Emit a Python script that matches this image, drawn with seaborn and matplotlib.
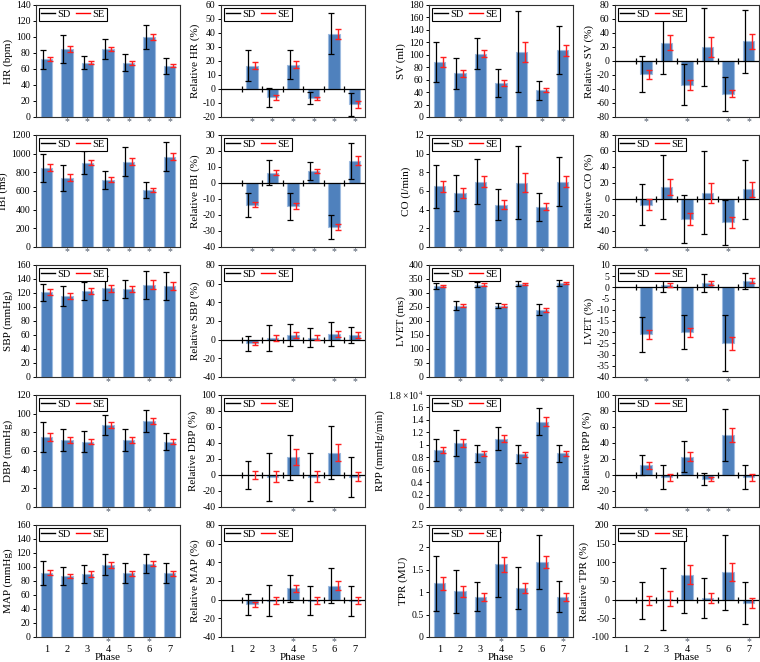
import matplotlib
matplotlib.use("Agg")
import matplotlib.pyplot as plt
from matplotlib.lines import Line2D
import numpy as np
import pandas as pd
import seaborn as sns

PHASES = ["1", "2", "3", "4", "5", "6", "7"]
NA = np.nan

# absolute values, SD, SE per phase
HR = [72, 85, 68, 85, 68, 100, 64]
HR_SD = [12, 17, 8.5, 12, 10.5, 15, 10]
HR_SE = [2.5, 4, 2, 3, 2.5, 3.5, 2]
RHR = [NA, 16.5, -6, 17.5, -6.5, 39.5, -11]
RHR_SD = [NA, 11, 7, 10.5, 4.5, 14.5, 8.5]
RHR_SE = [NA, 2.5, 2, 2.5, 1, 3.5, 2.5]

SV = [88, 70, 102, 55, 105, 43, 107]
SV_SD = [32, 25, 24.5, 22.5, 65, 15.5, 38.5]
SV_SE = [8, 5, 5, 5, 16, 3, 9]
RSV = [NA, -19, 26, -34, 20, -47, 28]
RSV_SD = [NA, 25.5, 45, 29.5, 55.5, 24.5, 45.5]
RSV_SE = [NA, 6, 10.5, 7, 14, 5, 10.5]

IBI = [850, 740, 905, 720, 915, 610, 965]
IBI_SD = [150, 137, 120, 97, 152, 87, 155]
IBI_SE = [35, 37, 30, 25, 37, 17, 37]
RIBI = [NA, -13.5, 6.5, -14.5, 7.5, -27.5, 14]
RIBI_SD = [NA, 7.5, 8, 8.5, 5.5, 7.5, 11.3]
RIBI_SE = [NA, 1.8, 1.8, 2, 1.5, 1.8, 2.8]

CO = [6.5, 5.8, 7.0, 4.55, 6.9, 4.3, 7.0]
CO_SD = [2.3, 1.9, 2.4, 1.65, 3.9, 1.5, 2.6]
CO_SE = [0.58, 0.5, 0.6, 0.45, 1.0, 0.38, 0.6]
RCO = [NA, -7, 15, -25, 8, -29, 12]
RCO_SD = [NA, 26, 40, 30, 51.5, 28, 37]
RCO_SE = [NA, 6.5, 10, 7.5, 12.5, 7, 9]

SBP = [121, 116, 123, 127, 126, 132, 130]
SBP_SD = [12, 14, 13, 17, 13, 20, 20]
SBP_SE = [4, 4, 4, 5, 4, 6, 6]
RSBP = [NA, -4, 2, 5, 2, 6, 5]
RSBP_SD = [NA, 8, 14, 12, 10, 13, 9]
RSBP_SE = [NA, 2, 3.5, 3, 2.5, 3.5, 3]

LVET = [325, 255, 330, 255, 333, 240, 335]
LVET_SD = [10, 15, 10, 10, 9, 20, 10]
LVET_SE = [4, 6, 4, 4, 3, 7, 4]
RLVET = [NA, -21, 1, -20, 2, -25, 3]
RLVET_SD = [NA, 8, 3, 7.5, 4, 12.5, 3.5]
RLVET_SE = [NA, 2, 1, 2, 1, 3, 1.2]

DBP = [75, 72, 70, 88, 72, 92, 70]
DBP_SD = [16, 12, 11, 11, 12, 12, 9]
DBP_SE = [4, 3, 3, 3, 3, 3, 3]
RDBP = [NA, 0, -2, 22, -2, 28, -2]
RDBP_SD = [NA, 17.5, 30, 28, 30, 33, 25]
RDBP_SE = [NA, 5, 7, 10, 7, 11, 6]

RPP = [0.92, 1.03, 0.86, 1.1, 0.85, 1.37, 0.86]
RPP_SD = [0.18, 0.21, 0.14, 0.19, 0.15, 0.22, 0.14]
RPP_SE = [0.05, 0.06, 0.04, 0.05, 0.04, 0.07, 0.04]
RRPP = [NA, 12, -3, 23, -5, 50, -3]
RRPP_SD = [NA, 12.5, 15, 19, 8, 32, 15]
RRPP_SE = [NA, 4, 4, 6, 2, 9, 4]

MAP = [92, 87, 90, 103, 91, 105, 91]
MAP_SD = [17, 13, 13, 15, 14.5, 14, 14.5]
MAP_SE = [4, 3, 4, 4, 4, 4, 4]
RMAP = [NA, -5, -1, 12, -1, 15, -1]
RMAP_SD = [NA, 11, 17, 14, 15.5, 19, 16]
RMAP_SE = [NA, 3, 3.5, 4, 3.5, 5, 4]

TPR = [1.2, 1.02, 0.9, 1.62, 1.1, 1.67, 0.9]
TPR_SD = [0.61, 0.48, 0.33, 0.72, 0.47, 0.6, 0.35]
TPR_SE = [0.15, 0.12, 0.09, 0.17, 0.11, 0.14, 0.09]
RTPR = [NA, -2, 2, 67, 5, 73, -9]
RTPR_SD = [NA, 49.5, 83, 103, 53.5, 101, 56]
RTPR_SE = [NA, 12.5, 20, 25, 13, 24, 13]

# significance stars: phases marked with "*"
STARS = {
    "HR": [2, 3, 4, 5, 6, 7], "RHR": [2, 3, 4, 5, 6, 7],
    "SV": [2, 4, 6, 7], "RSV": [2, 4, 6, 7],
    "IBI": [2, 3, 4, 5, 6, 7], "RIBI": [2, 3, 4, 5, 6, 7],
    "CO": [2, 4, 6], "RCO": [2, 4, 6],
    "SBP": [4, 6, 7], "RSBP": [4, 6, 7],
    "LVET": [2, 4, 6], "RLVET": [2, 4, 6],
    "DBP": [4, 6], "RDBP": [4, 6],
    "RPP": [2, 4, 5, 6], "RRPP": [2, 4, 5, 6],
    "MAP": [4, 6], "RMAP": [4, 6],
    "TPR": [4, 7], "RTPR": [4, 7],
}

BAR = "#4f81bd"
EDGE = "#9dbbe0"

plt.rcParams["font.family"] = ["Liberation Serif", "DejaVu Serif"]
plt.rcParams["mathtext.fontset"] = "stix"

fig = plt.figure(figsize=(7.6, 6.62), dpi=100)

panels = [
    # row, col, key, mean, sd, se, ylabel, lo, hi, step
    (0, 0, "HR", HR, HR_SD, HR_SE, "HR (bpm)", 0, 140, 20),
    (0, 1, "RHR", RHR, RHR_SD, RHR_SE, "Relative HR (%)", -20, 60, 10),
    (0, 2, "SV", SV, SV_SD, SV_SE, "SV (ml)", 0, 180, 20),
    (0, 3, "RSV", RSV, RSV_SD, RSV_SE, "Relative SV (%)", -80, 80, 20),
    (1, 0, "IBI", IBI, IBI_SD, IBI_SE, "IBI (ms)", 0, 1200, 200),
    (1, 1, "RIBI", RIBI, RIBI_SD, RIBI_SE, "Relative IBI (%)", -40, 30, 10),
    (1, 2, "CO", CO, CO_SD, CO_SE, "CO (l/min)", 0, 12, 2),
    (1, 3, "RCO", RCO, RCO_SD, RCO_SE, "Relative CO (%)", -60, 80, 20),
    (2, 0, "SBP", SBP, SBP_SD, SBP_SE, "SBP (mmHg)", 0, 160, 20),
    (2, 1, "RSBP", RSBP, RSBP_SD, RSBP_SE, "Relative SBP (%)", -40, 80, 20),
    (2, 2, "LVET", LVET, LVET_SD, LVET_SE, "LVET (ms)", 0, 400, 50),
    (2, 3, "RLVET", RLVET, RLVET_SD, RLVET_SE, "LVET (%)", -40, 10, 5),
    (3, 0, "DBP", DBP, DBP_SD, DBP_SE, "DBP (mmHg)", 0, 120, 20),
    (3, 1, "RDBP", RDBP, RDBP_SD, RDBP_SE, "Relative DBP (%)", -40, 100, 20),
    (3, 2, "RPP", RPP, RPP_SD, RPP_SE, "RPP (mmHg/min)", 0, 1.8, 0.2),
    (3, 3, "RRPP", RRPP, RRPP_SD, RRPP_SE, "Relative RPP (%)", -40, 100, 20),
    (4, 0, "MAP", MAP, MAP_SD, MAP_SE, "MAP (mmHg)", 0, 160, 20),
    (4, 1, "RMAP", RMAP, RMAP_SD, RMAP_SE, "Relative MAP (%)", -40, 80, 20),
    (4, 2, "TPR", TPR, TPR_SD, TPR_SE, "TPR (MU)", 0, 2.5, 0.5),
    (4, 3, "RTPR", RTPR, RTPR_SD, RTPR_SE, "Relative TPR (%)", -100, 200, 50),
]

col_left = [36, 221, 429, 615]
row_top = [5, 135, 265, 395, 525]
W, H = 144, 112

for row, col, key, mean, sd, se, ylabel, lo, hi, step in panels:
    left = col_left[col] / 760
    bottom = 1 - (row_top[row] + H) / 662
    ax = fig.add_axes([left, bottom, W / 760, H / 662])
    df = pd.DataFrame({"phase": PHASES, "value": mean})
    sns.barplot(data=df, x="phase", y="value", order=PHASES, color=BAR,
                saturation=1, edgecolor=EDGE, linewidth=0.8, width=0.55,
                errorbar=None, ax=ax)
    x = np.arange(len(PHASES))
    m = np.array(mean, dtype=float)
    ax.errorbar(x - 0.17, m, yerr=sd, fmt="none", ecolor="black",
                elinewidth=0.9, capsize=2.2, capthick=0.9, zorder=4)
    ax.errorbar(x + 0.17, m, yerr=se, fmt="none", ecolor="#ff2020",
                elinewidth=1.0, capsize=2.2, capthick=1.0, zorder=4)
    relative = key.startswith("R") and key != "RPP"
    if relative:
        ax.axhline(0, color="black", lw=0.9, zorder=3)
        ax.plot(x[:-1] + 0.5, np.zeros(len(x) - 1), ls="none", marker="|",
                ms=5, mew=0.9, color="black", zorder=3)
    ax.set_xlim(-0.5, 6.5)
    ax.set_ylim(lo, hi)
    ticks = np.arange(lo, hi + step / 2, step)
    ax.set_yticks(ticks)
    labels = [f"{t:.1f}".rstrip("0").rstrip(".") if step < 1 else f"{t:g}" for t in ticks]
    if key == "RPP":
        labels[-1] = "1.8 \u00d710$^{4}$"
    ax.set_yticklabels(labels)
    ax.tick_params(axis="y", labelsize=7, length=2.5, width=0.7, pad=1.5)
    ax.tick_params(axis="x", length=0, labelsize=7.5, pad=6)
    ax.set_ylabel(ylabel, fontsize=8, labelpad=2)
    if row == 4:
        ax.set_xlabel("Phase", fontsize=8, labelpad=-1)
    else:
        ax.set_xlabel("")
        ax.set_xticklabels([])
    for s in ax.spines.values():
        s.set_color("#303030")
        s.set_linewidth(0.8)
    star_y = -0.045
    for p in STARS[key]:
        ax.text(p - 1, star_y, "*", transform=ax.get_xaxis_transform(),
                ha="center", va="center", fontsize=7, color="#4a5566",
                clip_on=False)
    handles = [Line2D([], [], color="black", lw=1), Line2D([], [], color="red", lw=1)]
    ax.legend(handles, ["SD", "SE"], loc="upper left", ncol=2, fontsize=7.5,
              frameon=True, fancybox=False, edgecolor="black", framealpha=1,
              handlelength=1.4, handletextpad=0.2, columnspacing=0.5,
              borderpad=0.2, borderaxespad=0.25)
    ax.get_legend().get_frame().set_linewidth(0.8)

fig.savefig("out.png", dpi=100)
